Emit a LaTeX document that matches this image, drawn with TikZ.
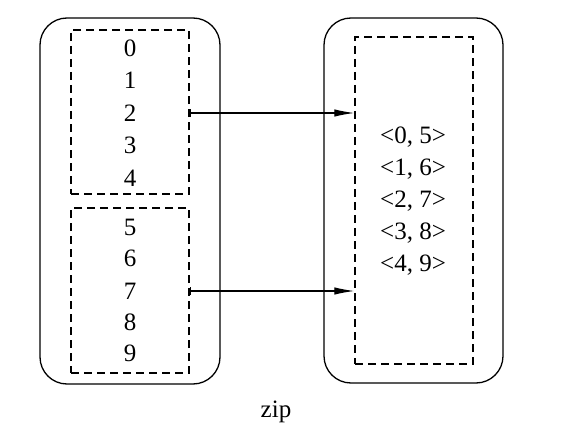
\documentclass[tikz,border=0pt]{standalone}
\usepackage{fontspec}
\setmainfont{Liberation Serif}
\usetikzlibrary{arrows.meta}
\begin{document}
\begin{tikzpicture}[x=1pt,y=-1pt,
  outer/.style={draw, line width=1.3pt, rounded corners=27pt, inner sep=0pt},
  part/.style={draw, dash pattern=on 8pt off 5pt, line width=1.3pt, inner sep=0pt},
  lbl/.style={font=\fontsize{25}{28}\selectfont, inner sep=0pt, text height=16.5pt, text depth=0pt},
  link/.style={line width=1.2pt, {Bar[width=8pt,line width=1.2pt]}-{Latex[length=20pt,width=7.5pt]}}
]
\useasboundingbox (0,0) rectangle (573,444);
\fill[white] (0,0) rectangle (573,444);
% left RDD
\node[outer, minimum width=180pt, minimum height=366pt] (L) at (130,201) {};
\node[part, minimum width=118pt, minimum height=164pt] (U) at (130,112) {};
\node[part, minimum width=118pt, minimum height=165pt] (D) at (130,290.5) {};
\node[lbl] (n0) at (130,48) {0};
\node[lbl] (n1) at (130,80.5) {1};
\node[lbl] (n2) at (130,113) {2};
\node[lbl] (n3) at (130,145.5) {3};
\node[lbl] (n4) at (130,178) {4};
\node[lbl] (n5) at (130,227) {5};
\node[lbl] (n6) at (130,258.5) {6};
\node[lbl] (n7) at (130,291) {7};
\node[lbl] (n8) at (130,322) {8};
\node[lbl] (n9) at (130,353.5) {9};
% right RDD
\node[outer, minimum width=179pt, minimum height=365pt] (RO) at (413.5,200.5) {};
\node[part, minimum width=118pt, minimum height=327pt] (R) at (414,200.5) {};
\node[lbl] (p0) at (413,135) {<0, 5>};
\node[lbl] (p1) at (413,167) {<1, 6>};
\node[lbl] (p2) at (413,199) {<2, 7>};
\node[lbl] (p3) at (413,231) {<3, 8>};
\node[lbl] (p4) at (413,263) {<4, 9>};
% connectors
\draw[link] (U.east |- n2) -- (R.west |- n2);
\draw[link] (D.east |- n7) -- (R.west |- n7);
% caption
\node[lbl, text height=11.5pt] (cap) at (276,412) {zip};
\end{tikzpicture}
\end{document}
